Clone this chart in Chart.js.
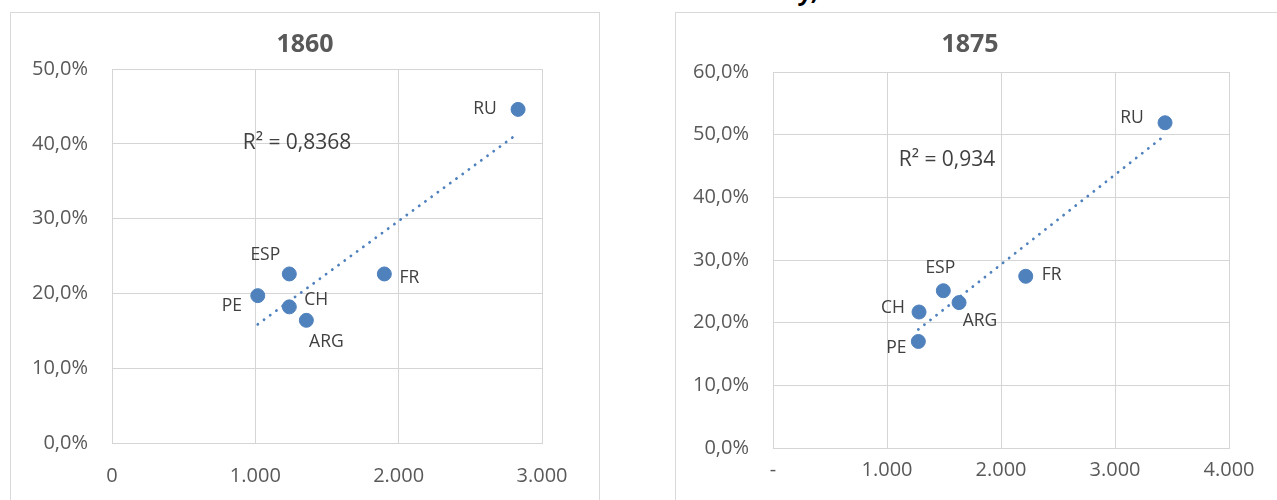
<!DOCTYPE html>
<html>
<head>
<meta charset="utf-8">
<script src="https://cdn.jsdelivr.net/npm/chart.js@4.4.1/dist/chart.umd.min.js"></script>
<style>
  html, body { margin: 0; padding: 0; background: #fff; width: 1277px; height: 500px; overflow: hidden; }
  .frame { position: absolute; border: 1px solid #d9d9d9; box-sizing: border-box; }
  canvas { position: absolute; }
  #heading { position: absolute; left: 800px; top: -26px; font: italic bold 24px "Open Sans"; color: #000; white-space: nowrap; }
</style>
</head>
<body>
<div id="heading">y,</div>
<div class="frame" style="left:10px; top:12px; width:590px; height:520px;"></div>
<div class="frame" style="left:675px; top:12px; width:700px; height:520px;"></div>
<canvas id="c1860" width="587" height="487" style="left:11px; top:13px;"></canvas>
<canvas id="c1875" width="601" height="487" style="left:676px; top:13px;"></canvas>
<script>
// Countries plotted in both panels
const countries = ['RU', 'ESP', 'FR', 'PE', 'CH', 'ARG'];

// 1860: income level (x) and share (y, %)
const gdp1860 = [2833, 1237, 1900, 1017, 1237, 1356];
const share1860 = [44.6, 22.6, 22.6, 19.7, 18.2, 16.4];

// 1875: income level (x) and share (y, %)
const gdp1875 = [3439, 1494, 2217, 1275, 1281, 1632];
const share1875 = [51.9, 25.1, 27.4, 17.0, 21.7, 23.2];

// Axis tick labels
const xTicks1860 = ['0', '1.000', '2.000', '3.000'];
const yTicks1860 = ['0,0%', '10,0%', '20,0%', '30,0%', '40,0%', '50,0%'];
const xTicks1875 = ['-', '1.000', '2.000', '3.000', '4.000'];
const yTicks1875 = ['0,0%', '10,0%', '20,0%', '30,0%', '40,0%', '50,0%', '60,0%'];

// Fit statistics shown next to the trend lines
const r2Text1860 = 'R² = 0,8368';
const r2Text1875 = 'R² = 0,934';

// Where each country name sits relative to its marker (px)
const labelOffsets1860 = { RU: [-33, 0], ESP: [-24, -19], FR: [25, 4], PE: [-26, 10], CH: [27, -7], ARG: [20, 22] };
const labelOffsets1875 = { RU: [-33, -5], ESP: [-3, -23], FR: [26, -1], PE: [-22, 7], CH: [-26, -4], ARG: [21, 18] };

const BLUE = '#4f81bd';
const GRID = '#d5d5d5';
const FONT = 'Open Sans';

// Ordinary least-squares line across the x range of the points
function trendLine(xs, ys) {
  const n = xs.length;
  const mx = xs.reduce((a, b) => a + b, 0) / n;
  const my = ys.reduce((a, b) => a + b, 0) / n;
  let sxy = 0, sxx = 0;
  for (let i = 0; i < n; i++) {
    sxy += (xs[i] - mx) * (ys[i] - my);
    sxx += (xs[i] - mx) * (xs[i] - mx);
  }
  const slope = sxy / sxx;
  const icpt = my - slope * mx;
  const x0 = Math.min(...xs), x1 = Math.max(...xs);
  return [{ x: x0, y: icpt + slope * x0 }, { x: x1, y: icpt + slope * x1 }];
}

// Draws panel title, country names and the R² note
const annotate = {
  id: 'annotate',
  afterDatasetsDraw(chart, args, opts) {
    const ctx = chart.ctx;
    ctx.save();
    ctx.textAlign = 'center';
    ctx.textBaseline = 'middle';

    ctx.font = 'bold 25px "' + FONT + '"';
    ctx.fillStyle = '#595959';
    ctx.fillText(opts.title, opts.titleX, opts.titleY);

    ctx.font = '17.5px "' + FONT + '"';
    ctx.fillStyle = '#404040';
    chart.getDatasetMeta(0).data.forEach((pt, i) => {
      const name = countries[i];
      const off = opts.offsets[name];
      ctx.fillText(name, pt.x + off[0], pt.y + off[1]);
    });

    ctx.font = '21px "' + FONT + '"';
    ctx.fillText(opts.r2, opts.r2X, opts.r2Y);
    ctx.restore();
  }
};

function makePanel(id, cfg) {
  const points = cfg.xs.map((x, i) => ({ x: x, y: cfg.ys[i] }));
  return new Chart(document.getElementById(id), {
    type: 'scatter',
    data: {
      datasets: [
        {
          data: points,
          backgroundColor: BLUE,
          borderColor: BLUE,
          borderWidth: 1,
          pointRadius: 7,
          order: 0
        },
        {
          type: 'line',
          data: trendLine(cfg.xs, cfg.ys),
          borderColor: BLUE,
          borderWidth: 2.8,
          borderDash: [0.1, 7.6],
          borderCapStyle: 'round',
          pointRadius: 0,
          fill: false,
          order: 1
        }
      ]
    },
    options: {
      responsive: false,
      animation: false,
      devicePixelRatio: 1,
      events: [],
      layout: { padding: { left: 0, top: cfg.padTop, right: cfg.padRight, bottom: 0 } },
      plugins: {
        legend: { display: false },
        tooltip: { enabled: false },
        annotate: {
          title: cfg.title, titleX: 294, titleY: 32,
          offsets: cfg.offsets,
          r2: cfg.r2, r2X: cfg.r2X, r2Y: cfg.r2Y
        }
      },
      scales: {
        x: {
          type: 'linear',
          min: 0, max: cfg.xMax,
          ticks: {
            stepSize: 1000,
            autoSkip: false,
            maxRotation: 0,
            padding: cfg.xPad,
            color: '#595959',
            font: { family: FONT, size: 20 },
            callback: v => cfg.xLabels[Math.round(v / 1000)]
          },
          grid: { color: GRID, lineWidth: 1, drawTicks: false },
          border: { color: GRID },
          afterFit: s => { s.height = cfg.xAxisH; }
        },
        y: {
          type: 'linear',
          min: 0, max: cfg.yMax,
          ticks: {
            stepSize: 10,
            padding: 24,
            color: '#595959',
            font: { family: FONT, size: 20 },
            callback: v => cfg.yLabels[Math.round(v / 10)]
          },
          grid: { color: GRID, lineWidth: 1, drawTicks: false },
          border: { color: GRID },
          afterFit: s => { s.width = cfg.yAxisW; }
        }
      }
    },
    plugins: [annotate]
  });
}

makePanel('c1860', {
  xs: gdp1860, ys: share1860,
  xMax: 3000, yMax: 50,
  xLabels: xTicks1860, yLabels: yTicks1860,
  title: '1860', r2: r2Text1860, r2X: 286, r2Y: 130,
  offsets: labelOffsets1860,
  padTop: 56, padRight: 56, yAxisW: 101, xAxisH: 57, xPad: 21
});

makePanel('c1875', {
  xs: gdp1875, ys: share1875,
  xMax: 4000, yMax: 60,
  xLabels: xTicks1875, yLabels: yTicks1875,
  title: '1875', r2: r2Text1875, r2X: 271, r2Y: 147,
  offsets: labelOffsets1875,
  padTop: 59, padRight: 48, yAxisW: 97, xAxisH: 52, xPad: 10
});
</script>
</body>
</html>
